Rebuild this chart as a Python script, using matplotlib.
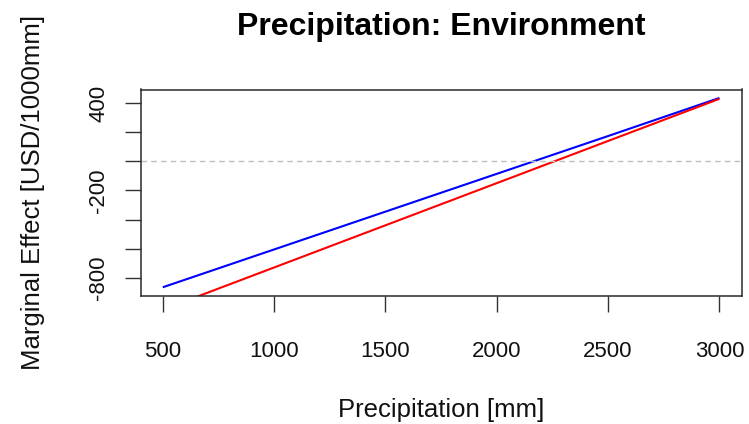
import matplotlib
matplotlib.use("Agg")
import matplotlib.pyplot as plt

# ---- data ----
precip = [500, 1000, 1500, 2000, 2500, 3000]
effect_blue = [-866, -606, -346, -86, 174, 436]
effect_red = [-1020, -730, -440, -150, 140, 430]

x_ticks = [500, 1000, 1500, 2000, 2500, 3000]
x_tick_labels = ["500", "1000", "1500", "2000", "2500", "3000"]
y_ticks = [400, 200, 0, -200, -400, -600, -800]
y_tick_labels = ["400", "", "", "-200", "", "", "-800"]

title = "Precipitation: Environment"
xlabel = "Precipitation [mm]"
ylabel = "Marginal Effect [USD/1000mm]"

plt.rcParams['font.family'] = ['Liberation Sans', 'DejaVu Sans']

W, H = 749, 424
fig = plt.figure(figsize=(W / 100, H / 100), dpi=100)
L, R, T, B = 140.5, 741.7, 89.5, 295.7
ax = fig.add_axes([L / W, 1 - B / H, (R - L) / W, (B - T) / H])

ax.plot(precip, effect_blue, color="blue", lw=1.5, solid_capstyle="butt")
ax.plot(precip, effect_red, color="red", lw=1.5, solid_capstyle="butt")
ax.axhline(0, color="#bebebe", lw=1.0, ls=(0, (4, 3)))

ax.set_xlim(400, 3100)
ax.set_ylim(-924, 494)

ax.set_xticks(x_ticks)
ax.set_xticklabels(x_tick_labels)
ax.set_yticks(y_ticks)
ax.set_yticklabels(y_tick_labels, rotation=90, va="center")

ax.tick_params(axis="both", direction="out", length=11.5, width=1.0,
               color="#333333", labelsize=16, labelcolor="#111111")
ax.tick_params(axis="x", pad=21)
ax.tick_params(axis="y", pad=11)
for s in ax.spines.values():
    s.set_linewidth(1.1)
    s.set_color("#2a2a2a")

fig.text((L + R) / 2 / W, 1 - 27 / H, title, ha="center", va="center",
         fontsize=23, fontweight="bold", color="black")
fig.text((L + R) / 2 / W, 1 - 410 / H, xlabel, ha="center", va="center",
         fontsize=18.5, color="#111111")
fig.text(33 / W, 1 - 192 / H, ylabel, ha="center", va="center",
         rotation=90, fontsize=18.5, color="#111111")

fig.savefig("out.png", dpi=100, facecolor="white")
